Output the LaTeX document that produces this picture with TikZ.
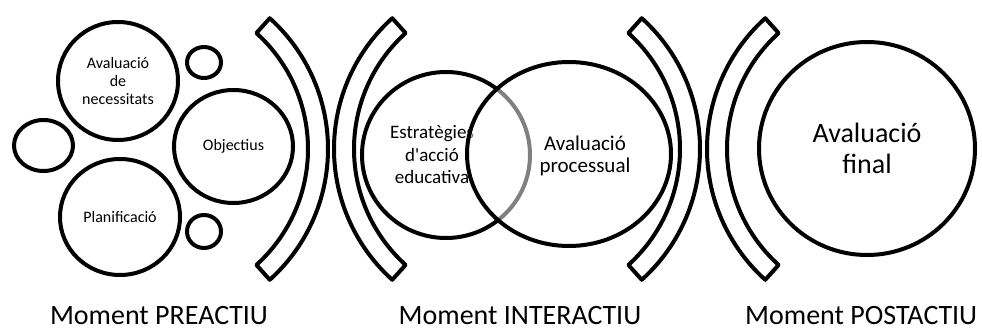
\documentclass[tikz,border=0pt]{standalone}
\usepackage{fontspec}
\setmainfont{Carlito}[Ligatures=TeXOff]
\usetikzlibrary{shapes.geometric,calc}
\tikzset{
  bub/.style={ellipse, draw, line width=4pt, inner sep=0pt, align=center, font=\fontsize{16}{18}\selectfont},
  brk/.style={draw, line width=4pt, line join=round},
  moment/.style={inner sep=0pt, font=\fontsize{28}{30}\selectfont},
}
\begin{document}
\begin{tikzpicture}[x=1pt, y=-1pt]
\useasboundingbox (0,0) rectangle (982,331);
% Moment preactiu
\node[bub, minimum width=120pt, minimum height=118pt] (nec) at (118,81) {Avaluació\\de\\necessitats};
\node[bub, minimum width=119pt, minimum height=113pt] (obj) at (233.5,146.5) {Objectius};
\node[bub, minimum width=120pt, minimum height=116pt] (plan) at (120,217) {Planificació};
\node[bub, minimum width=34pt, minimum height=31pt] (dotup) at (204,62.5) {};
\node[bub, minimum width=34pt, minimum height=33pt] (dotdown) at (204,231.5) {};
\node[bub, minimum width=59pt, minimum height=51pt] (dotleft) at (43.5,145.5) {};
% Brackets
\foreach \cx/\a in {152/0, 510/180, 524/0, 883/180}
  \draw[brk] ($(\cx,149)+(\a+48:176pt)$) arc[start angle=\a+48, end angle=\a-48, radius=176pt]
    -- ($(\cx,149)+(\a-48:156pt)$) arc[start angle=\a-48, end angle=\a+48, radius=156pt] -- cycle;
% Moment interactiu
\node[bub, minimum width=168pt, minimum height=166pt] (estr) at (446,155) {};
\node[align=center, inner sep=0pt, font=\fontsize{19}{22.5}\selectfont] (estrtxt) at (432,155) {Estratègies\\d'acció\\educativa};
\node[bub, minimum width=204pt, minimum height=184pt, fill=white, fill opacity=0.5] (proc) at (569,154) {};
\node[align=center, inner sep=0pt, font=\fontsize{21}{22.5}\selectfont] (proctxt) at (585,156) {Avaluació\\processual};
% Moment postactiu
\node[bub, minimum width=216pt, minimum height=213pt, font=\fontsize{28}{30.5}\selectfont] (final) at (867,148.5) {Avaluació\\final};
% Labels
\node[moment, anchor=base] (pre) at (159,324) {Moment PREACTIU};
\node[moment, anchor=base] (inter) at (520,324) {Moment INTERACTIU};
\node[moment, anchor=base west] (post) at (745,324) {Moment POSTACTIU};
\end{tikzpicture}
\end{document}
